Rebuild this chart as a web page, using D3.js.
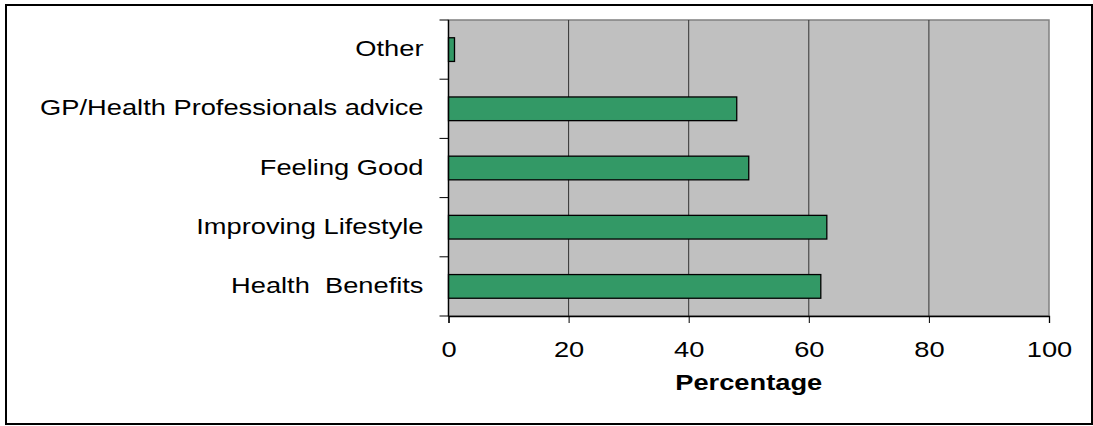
<!DOCTYPE html>
<html>
<head>
<meta charset="utf-8">
<script src="https://cdn.jsdelivr.net/npm/d3@7"></script>
<style>
  body { margin: 0; background: #fff; }
  svg { display: block; font-family: "Liberation Sans", Arial, sans-serif; }
</style>
</head>
<body>
<div id="chart"></div>
<script>
// categories bottom to top as shown
const categories = ["Health  Benefits", "Improving Lifestyle", "Feeling Good", "GP/Health Professionals advice", "Other"];
const values = [62, 63, 50, 48, 1];
const xTicks = [0, 20, 40, 60, 80, 100];

const width = 1093, height = 426;
const margin = { top: 20, right: 44, bottom: 110, left: 448.5 };
const plotW = width - margin.left - margin.right;
const plotH = height - margin.top - margin.bottom;
const stretch = 1.24; // the original text is drawn wide

const svg = d3.select("#chart").append("svg")
  .attr("width", width)
  .attr("height", height);

// outer chart border
svg.append("rect")
  .attr("x", 6).attr("y", 5)
  .attr("width", 1086).attr("height", 419)
  .attr("fill", "#fff")
  .attr("stroke", "#000")
  .attr("stroke-width", 2);

const g = svg.append("g")
  .attr("transform", `translate(${margin.left},${margin.top})`);

const x = d3.scaleLinear().domain([0, 100]).range([0, plotW]);
const y = d3.scaleBand()
  .domain(categories.slice().reverse())
  .range([0, plotH])
  .paddingInner(0.6)
  .paddingOuter(0.3);

// plot background
g.append("rect")
  .attr("width", plotW).attr("height", plotH)
  .attr("fill", "#c0c0c0")
  .attr("stroke", "#808080")
  .attr("stroke-width", 1.5);

// vertical gridlines
g.append("g")
  .selectAll("line")
  .data(xTicks.slice(1, -1))
  .enter().append("line")
  .attr("x1", d => x(d)).attr("x2", d => x(d))
  .attr("y1", 0).attr("y2", plotH)
  .attr("stroke", "#333")
  .attr("stroke-width", 1);

// bars
g.append("g")
  .selectAll("rect")
  .data(categories)
  .enter().append("rect")
  .attr("x", x(0))
  .attr("y", d => y(d))
  .attr("width", (d, i) => x(values[i]) - x(0))
  .attr("height", y.bandwidth())
  .attr("fill", "#339966")
  .attr("stroke", "#000")
  .attr("stroke-width", 1.3);

// x axis
const xAxis = g.append("g")
  .attr("transform", `translate(0,${plotH})`)
  .call(d3.axisBottom(x).tickValues(xTicks).tickSize(7).tickPadding(0));
xAxis.select(".domain").attr("stroke", "#000").attr("stroke-width", 1.3);
xAxis.selectAll(".tick line").attr("stroke", "#000");
xAxis.selectAll("text")
  .attr("y", 0).attr("dy", 0)
  .attr("transform", `translate(0,41) scale(${stretch},1)`)
  .attr("font-size", 22)
  .attr("fill", "#000")
  .attr("font-family", "Liberation Sans, Arial, sans-serif");

// y axis: ticks at band boundaries
const step = plotH / categories.length;
const yTickPos = d3.range(categories.length + 1).map(i => i * step);
const yAxis = g.append("g");
yAxis.append("line")
  .attr("x1", 0).attr("x2", 0).attr("y1", 0).attr("y2", plotH)
  .attr("stroke", "#000").attr("stroke-width", 1.3);
yAxis.selectAll("line.tk")
  .data(yTickPos)
  .enter().append("line")
  .attr("class", "tk")
  .attr("x1", -9).attr("x2", 0)
  .attr("y1", d => d).attr("y2", d => d)
  .attr("stroke", "#000");
yAxis.selectAll("text")
  .data(categories)
  .enter().append("text")
  .attr("transform", d => `translate(-25,${y(d) + y.bandwidth() / 2 + 6.5}) scale(${stretch},1)`)
  .attr("text-anchor", "end")
  .attr("font-size", 22)
  .attr("fill", "#000")
  .style("white-space", "pre")
  .text(d => d);

// axis title
svg.append("text")
  .attr("transform", `translate(${margin.left + plotW / 2},390) scale(${stretch},1)`)
  .attr("text-anchor", "middle")
  .attr("font-size", 22)
  .attr("font-weight", "bold")
  .text("Percentage");
</script>
</body>
</html>
